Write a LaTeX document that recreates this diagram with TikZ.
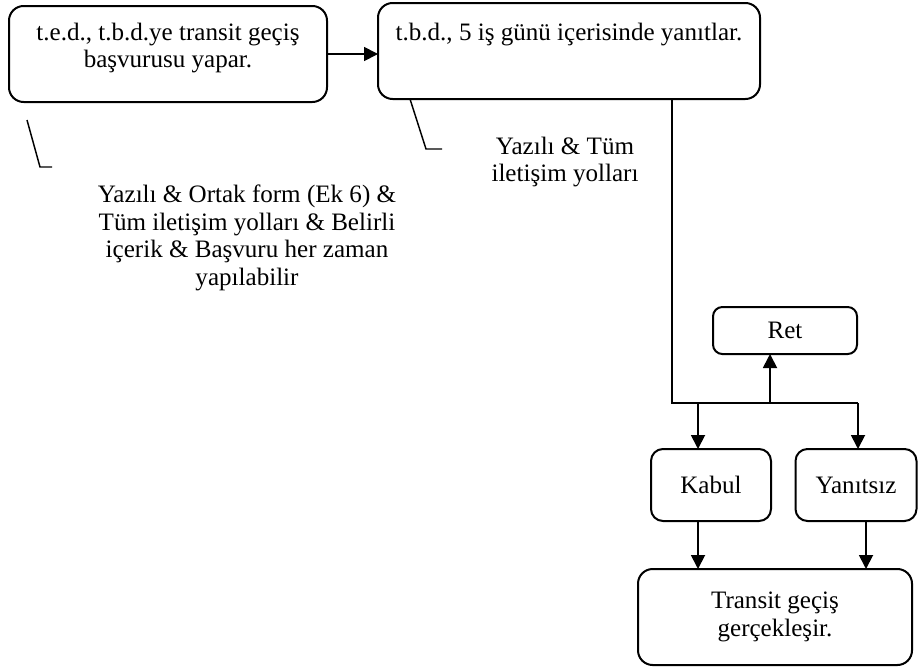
\documentclass[tikz,border=0pt]{standalone}
\usepackage{fontspec}
\setmainfont{Liberation Serif}
\usetikzlibrary{arrows.meta}
\begin{document}
\begin{tikzpicture}[x=0.75pt,y=-0.75pt,
  font=\fontsize{18.8}{20.6}\selectfont,
  box/.style={draw, line width=1.5pt, rounded corners=11pt, inner sep=0pt,
    outer sep=0pt, align=center},
  smallbox/.style={box, rounded corners=7pt},
  link/.style={line width=1.35pt},
  flow/.style={link, -{Triangle[length=10.5pt,width=10.5pt]}},
  note/.style={align=center, inner sep=0pt},
  lead/.style={line width=1.1pt}]
\useasboundingbox (0,0) rectangle (919,671);

% process boxes
\node[box, minimum width=238.5pt, minimum height=72pt] (req) at (168,54)
  {\parbox[c][72pt][t]{236pt}{\centering\rule{0pt}{25.5pt}t.e.d., t.b.d.ye transit geçiş\\başvurusu yapar.}};
\node[box, minimum width=286.5pt, minimum height=72pt] (resp) at (569,51)
  {\parbox[c][72pt][t]{284pt}{\centering\rule{0pt}{28pt}t.b.d., 5 iş günü içerisinde yanıtlar.}};
\node[smallbox, minimum width=108pt, minimum height=35.25pt] (ret) at (785,330.5) {Ret};
\node[box, rounded corners=9pt, minimum width=90pt, minimum height=54pt] (kabul) at (711,485) {Kabul};
\node[box, rounded corners=9pt, minimum width=90.75pt, minimum height=54pt] (yanit) at (856,485) {Yanıtsız};
\node[box, minimum width=205.5pt, minimum height=72pt] (done) at (775,617) {Transit geçiş\\gerçekleşir.};

% annotations
\node[note] (note1) at (247,238) {Yazılı \& Ortak form (Ek 6) \&\\Tüm iletişim yolları \& Belirli\\içerik \& Başvuru her zaman\\yapılabilir};
\node[note] (note2) at (565,162) {Yazılı \& Tüm\\iletişim yolları};

\coordinate (l1a) at (27,120);
\coordinate (l1b) at (40,167);
\coordinate (l1c) at (52,167);
\draw[lead] (l1a) -- (l1b) -- (l1c);
\coordinate (l2a) at (410,99);
\coordinate (l2b) at (426,149);
\coordinate (l2c) at (442,149);
\draw[lead] (l2a) -- (l2b) -- (l2c);

% flow connectors
\draw[flow] (req.east) -- (req.east -| resp.west);

\coordinate (split) at (672,403);
\coordinate (bend) at (858,403);
\coordinate (tk) at (698,403);
\coordinate (tr) at (770,403);
\coordinate (ty) at (866,403);
\draw[link] (resp.south -| split) -- (split) -- (bend);
\draw[flow] (tr) -- (tr |- ret.south);
\draw[flow] (tk) -- (tk |- kabul.north);
\draw[flow] (bend) -- (bend |- yanit.north);
\draw[flow] (tk |- kabul.south) -- (tk |- done.north);
\draw[flow] (ty |- yanit.south) -- (ty |- done.north);
\end{tikzpicture}
\end{document}
